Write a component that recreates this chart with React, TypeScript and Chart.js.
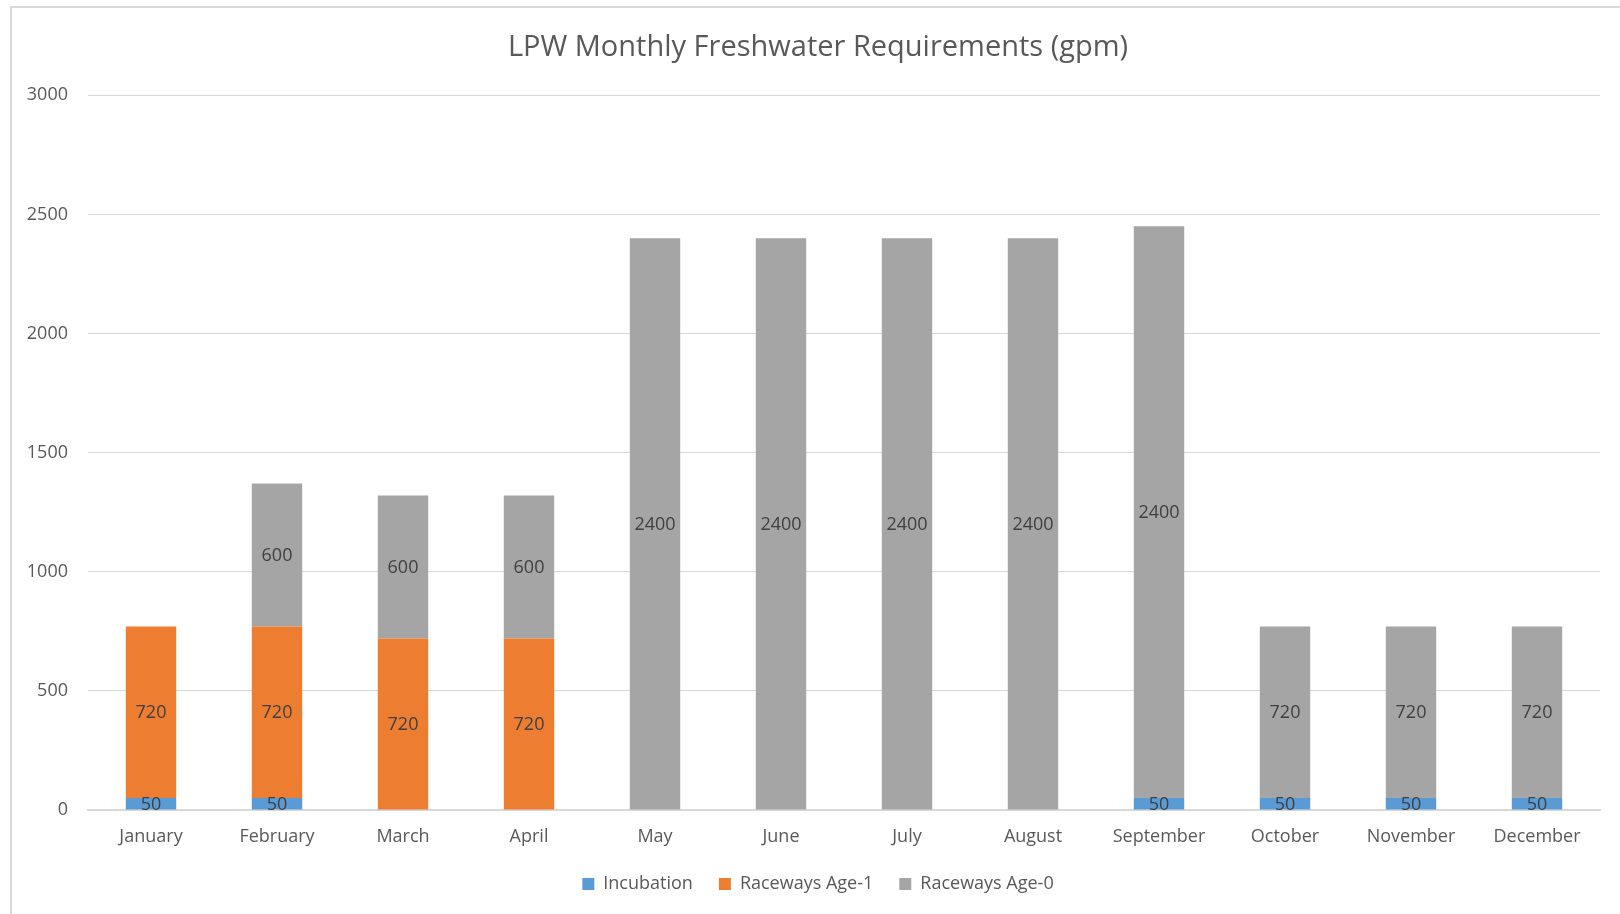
import React, { useEffect, useRef } from "react";
import { Chart, registerables } from "chart.js";

Chart.register(...registerables);

const months = ["January", "February", "March", "April", "May", "June", "July", "August", "September", "October", "November", "December"];
const incubation = [50, 50, 0, 0, 0, 0, 0, 0, 50, 50, 50, 50];
const racewaysAge1 = [720, 720, 720, 720, 0, 0, 0, 0, 0, 0, 0, 0];
const racewaysAge0 = [0, 600, 600, 600, 2400, 2400, 2400, 2400, 2400, 720, 720, 720];
const yTicks = [0, 500, 1000, 1500, 2000, 2500, 3000];

const FONT = "'Open Sans', 'Liberation Sans', sans-serif";

const dataLabels = {
  id: "dataLabels",
  afterDatasetsDraw(chart: any) {
    const ctx = chart.ctx;
    ctx.save();
    ctx.font = `18px ${FONT}`;
    ctx.fillStyle = "#404040";
    ctx.textAlign = "center";
    ctx.textBaseline = "middle";
    chart.data.datasets.forEach((ds: any, i: number) => {
      const meta = chart.getDatasetMeta(i);
      meta.data.forEach((bar: any, j: number) => {
        const v = ds.data[j];
        if (!v) return;
        const p = bar.getProps(["x", "y", "base"], true);
        ctx.fillText(String(v), p.x, (p.y + p.base) / 2 + 1);
      });
    });
    ctx.restore();
  },
};

export default function App() {
  const ref = useRef<HTMLCanvasElement | null>(null);
  useEffect(() => {
    if (!ref.current) return;
    const chart = new Chart(ref.current, {
      type: "bar",
      data: {
        labels: months,
        datasets: [
          { label: "Incubation", data: incubation, backgroundColor: "#5B9BD5" },
          { label: "Raceways Age-1", data: racewaysAge1, backgroundColor: "#ED7D31" },
          { label: "Raceways Age-0", data: racewaysAge0, backgroundColor: "#A5A5A5" },
        ],
      },
      options: {
        animation: false,
        responsive: false,
        maintainAspectRatio: false,
        datasets: { bar: { categoryPercentage: 1, barPercentage: 0.4 } },
        layout: { padding: { left: 0, right: 0, top: 0, bottom: 11 } },
        plugins: {
          tooltip: { enabled: false },
          title: {
            display: true,
            text: "LPW Monthly Freshwater Requirements (gpm)",
            color: "#595959",
            font: { family: FONT, size: 29, weight: "normal" },
            padding: { top: 30.5, bottom: 30 },
          },
          legend: {
            position: "bottom",
            labels: {
              color: "#595959",
              font: { family: FONT, size: 18 },
              boxWidth: 12,
              boxHeight: 12,
              padding: 26,
            },
          },
        },
        scales: {
          x: {
            stacked: true,
            afterFit: (scale: any) => {
              scale.height = 39;
            },
            grid: { display: false, drawTicks: false },
            border: { display: true, color: "#D9D9D9", width: 2 },
            ticks: { color: "#595959", font: { family: FONT, size: 18 }, padding: 16, maxRotation: 0 },
          },
          y: {
            stacked: true,
            min: 0,
            max: 3000,
            afterBuildTicks: (scale: any) => {
              scale.ticks = yTicks.map((v) => ({ value: v }));
            },
            afterFit: (scale: any) => {
              scale.width = 88;
            },
            grid: { color: "#D9D9D9", lineWidth: 1, drawTicks: false },
            border: { display: false },
            ticks: {
              color: "#595959",
              font: { family: FONT, size: 18 },
              padding: 20,
              callback: (v: any) => String(v),
            },
          },
          spacer: {
            type: "linear",
            position: "right",
            display: true,
            min: 0,
            max: 3000,
            afterFit: (scale: any) => {
              scale.width = 36;
            },
            grid: { display: false, drawTicks: false },
            border: { display: false },
            ticks: { display: false },
          },
        },
      },
      plugins: [dataLabels],
    });
    return () => chart.destroy();
  }, []);
  return (
    <div style={{ position: "fixed", left: 0, top: 0, width: 1620, height: 914, overflow: "hidden", background: "#fff" }}>
      <div
        style={{
          position: "absolute",
          left: 10,
          top: 6,
          width: 1700,
          height: 1000,
          borderLeft: "2px solid #D9D9D9",
          borderTop: "2px solid #D9D9D9",
        }}
      />
      <canvas ref={ref} width={1636} height={914} style={{ position: "absolute", left: 0, top: 0, width: 1636, height: 914 }} />
    </div>
  );
}
